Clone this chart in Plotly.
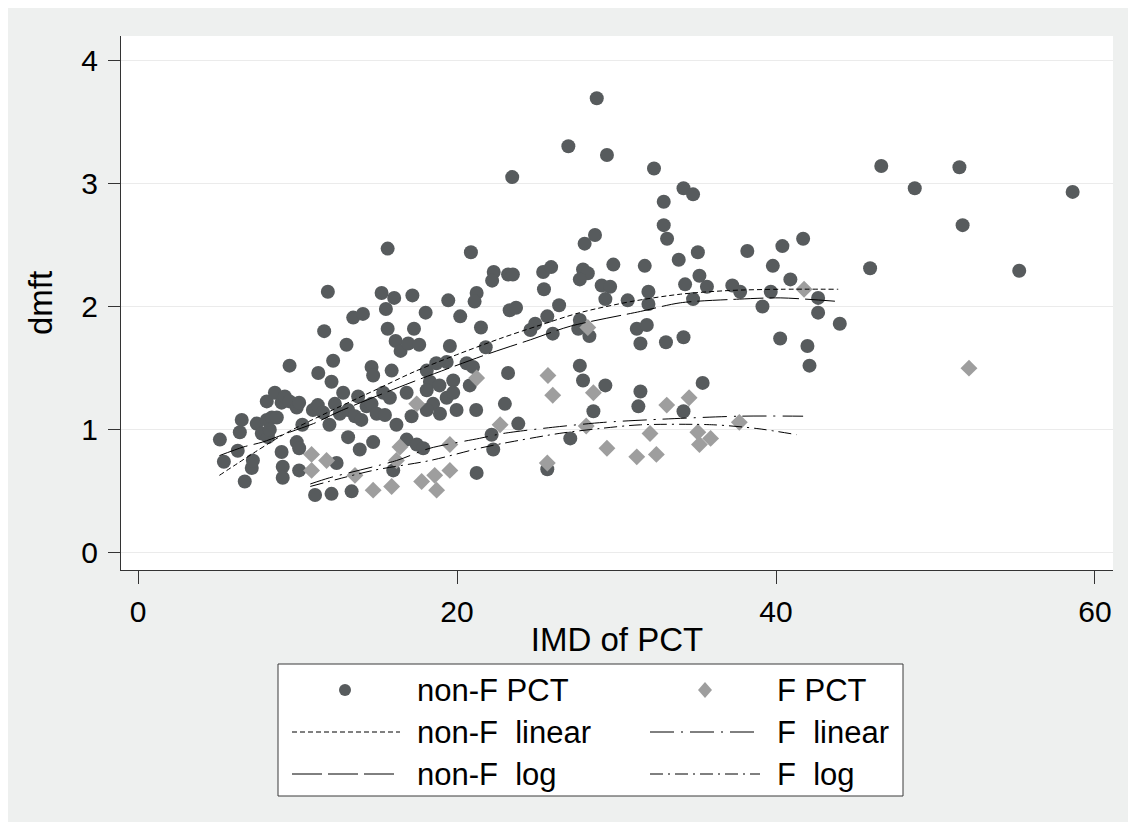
import plotly.graph_objects as go

# ---------------- data ----------------
nonF_imd = [5.13, 5.38, 6.25, 6.50, 6.38, 6.69, 7.13, 7.20, 7.44, 8.07, 8.39, 8.70, 7.76, 8.14, 8.26,
            8.07, 8.58, 9.0, 9.2, 9.5, 9.95, 10.1, 9.0, 9.07, 9.07, 9.95, 10.1, 10.1, 10.3, 10.96,
            11.27, 11.6, 12.0, 11.1, 11.3, 9.5,
            14.64, 14.74, 15.9, 12.13, 12.86, 13.8, 12.34, 12.65, 13.17, 13.6, 14.0, 14.33, 14.64, 14.96,
            15.37, 15.79, 15.48, 16.2, 16.84, 17.15, 18.1, 18.7, 19.35, 18.3, 18.1, 18.9, 19.76, 20.8,
            19.35, 19.76, 18.5, 18.93, 19.97, 21.2, 18.1, 13.17, 13.9, 14.74, 16.84, 17.47, 17.88, 12.45,
            12.13, 13.39, 16.0, 21.23,
            15.65, 20.87, 22.3, 22.2, 11.9, 15.27, 16.06, 17.2, 19.45, 21.23, 21.1, 15.54, 13.49, 14.1,
            18.03, 20.2, 11.67, 15.65, 17.3, 21.5, 13.07, 16.15, 16.46, 16.94, 17.63, 19.55, 21.8, 12.23,
            28.65, 28.0, 23.2, 23.5, 25.4, 25.9, 27.9, 28.2, 27.7, 29.8, 25.45, 29.07, 29.6, 29.3, 30.7,
            23.3, 23.7, 26.4, 25.66, 24.9, 24.6, 26.0, 27.7, 27.6, 28.3, 31.27, 31.5, 20.6, 21.0, 23.2,
            27.7, 27.9, 29.3,
            23.0, 23.84, 22.17, 22.27, 27.1, 25.66, 28.55, 31.5, 31.37,
            28.76, 26.98, 29.4, 23.46, 32.35, 34.2, 34.8, 32.96, 32.96, 33.17, 33.9, 35.1, 38.2, 40.4,
            41.7, 39.8, 31.77, 35.2, 40.9, 34.3, 35.67, 37.26, 37.75, 39.67, 42.64, 42.64, 44.0, 39.15,
            32.0, 32.0, 34.8, 31.9, 33.1, 34.2, 40.26, 41.97, 42.1, 35.4, 34.2,
            46.6, 51.5, 48.7, 58.6, 51.7, 45.9, 55.25]
nonF_dmft = [0.92, 0.74, 0.83, 1.08, 0.98, 0.58, 0.69, 0.75, 1.05, 1.08, 1.10, 1.10, 0.97, 0.94, 1.00,
             1.23, 1.30, 1.22, 1.27, 1.23, 1.18, 1.22, 0.82, 0.70, 0.61, 0.90, 0.85, 0.67, 1.04, 1.16,
             1.20, 1.14, 1.04, 0.47, 1.46, 1.52,
             1.51, 1.44, 1.48, 1.39, 1.30, 1.27, 1.21, 1.13, 1.16, 1.11, 1.08, 1.19, 1.21, 1.13,
             1.30, 1.26, 1.12, 1.04, 1.30, 1.11, 1.48, 1.54, 1.55, 1.39, 1.32, 1.36, 1.40, 1.36,
             1.26, 1.30, 1.21, 1.13, 1.16, 1.16, 1.16, 0.94, 0.84, 0.90, 0.92, 0.88, 0.85, 0.73,
             0.48, 0.50, 0.67, 0.65,
             2.47, 2.44, 2.28, 2.21, 2.12, 2.11, 2.07, 2.09, 2.05, 2.11, 2.04, 1.98, 1.91, 1.94,
             1.95, 1.92, 1.80, 1.82, 1.82, 1.83, 1.69, 1.72, 1.64, 1.70, 1.69, 1.68, 1.67, 1.56,
             2.58, 2.51, 2.26, 2.26, 2.28, 2.32, 2.30, 2.27, 2.22, 2.34, 2.14, 2.17, 2.16, 2.06, 2.05,
             1.97, 1.99, 2.01, 1.92, 1.86, 1.81, 1.78, 1.89, 1.82, 1.76, 1.82, 1.70, 1.54, 1.51, 1.46,
             1.52, 1.40, 1.36,
             1.21, 1.05, 0.96, 0.84, 0.93, 0.68, 1.15, 1.31, 1.19,
             3.69, 3.30, 3.23, 3.05, 3.12, 2.96, 2.91, 2.85, 2.66, 2.55, 2.38, 2.44, 2.45, 2.49,
             2.55, 2.33, 2.33, 2.25, 2.22, 2.18, 2.16, 2.17, 2.12, 2.12, 2.07, 1.95, 1.86, 2.00,
             2.12, 2.02, 2.06, 1.85, 1.71, 1.75, 1.74, 1.68, 1.52, 1.38, 1.15,
             3.14, 3.13, 2.96, 2.93, 2.66, 2.31, 2.29]

F_imd = [10.88, 11.82, 10.88, 13.6, 14.74, 15.9, 16.42, 16.2, 17.47, 17.78, 18.6, 18.72, 19.55, 19.55,
         21.23, 22.7, 25.7, 26.0, 25.66, 28.2, 28.55, 28.1, 29.4, 31.27, 32.1, 32.5, 33.15, 34.55,
         35.1, 35.9, 35.2, 37.7, 41.76, 52.1]
F_dmft = [0.80, 0.75, 0.67, 0.63, 0.51, 0.54, 0.86, 0.75, 1.21, 0.58, 0.63, 0.51, 0.88, 0.67,
          1.42, 1.04, 1.44, 1.28, 0.73, 1.83, 1.30, 1.03, 0.85, 0.78, 0.97, 0.80, 1.20, 1.26,
          0.98, 0.93, 0.88, 1.06, 2.14, 1.50]

nonF_lin_x = [5.1, 9.1, 12.2, 15.0, 17.3, 19.8, 22.7, 25.0, 27.7, 30.9, 34.0, 37.1, 40.3, 43.9]
nonF_lin_y = [0.63, 0.96, 1.16, 1.33, 1.47, 1.60, 1.74, 1.84, 1.95, 2.04, 2.10, 2.13, 2.14, 2.14]

nonF_log_x = [5.1, 6.6, 7.8, 9.5, 11.0, 12.65, 17.05, 22.05, 24.6, 27.1, 31.5, 34.0, 37.7, 40.3, 44.0]
nonF_log_y = [0.79, 0.86, 0.90, 0.98, 1.05, 1.15, 1.38, 1.62, 1.73, 1.84, 1.96, 2.03, 2.06, 2.07, 2.04]

F_lin_x = [10.8, 12.0, 16.2, 18.3, 21.4, 22.9, 26.0, 29.2, 31.9, 37.7, 41.7]
F_lin_y = [0.56, 0.61, 0.75, 0.85, 0.93, 0.97, 1.02, 1.06, 1.08, 1.11, 1.11]

F_log_x = [10.8, 14.74, 18.3, 21.4, 22.9, 26.4, 28.95, 31.5, 36.1, 38.8, 41.3]
F_log_y = [0.54, 0.67, 0.75, 0.85, 0.89, 0.97, 1.01, 1.04, 1.04, 1.01, 0.96]

x_ticks = [0, 20, 40, 60]
y_ticks = [0, 1, 2, 3, 4]

legend_labels = ["non-F PCT", "F PCT", "non-F  linear", "F  linear", "non-F  log", "F  log"]

# ---------------- styles ----------------
FONT = "Liberation Sans, Arial, sans-serif"
FS_TICK = 30
FS_TITLE = 33
FS_LEG = 31
C_NONF = "#575b5d"
C_F = "#9e9e9e"
BG = "#eef0ef"
DASH_NONF_LIN = "5px,3px"
DASH_NONF_LOG = "30px,6px"
DASH_F_LIN = "24px,7px,2px,7px"
DASH_F_LOG = "13px,5px,2px,5px"

fig = go.Figure()

fig.add_trace(go.Scatter(x=nonF_imd, y=nonF_dmft, mode="markers", name=legend_labels[0],
                         marker=dict(symbol="circle", size=14, color=C_NONF, line=dict(width=0))))
fig.add_trace(go.Scatter(x=F_imd, y=F_dmft, mode="markers", name=legend_labels[1],
                         marker=dict(symbol="diamond", size=13, color=C_F, line=dict(width=0))))
for xs, ys, dash, nm in [(nonF_lin_x, nonF_lin_y, DASH_NONF_LIN, legend_labels[2]),
                         (F_lin_x, F_lin_y, DASH_F_LIN, legend_labels[3]),
                         (nonF_log_x, nonF_log_y, DASH_NONF_LOG, legend_labels[4]),
                         (F_log_x, F_log_y, DASH_F_LOG, legend_labels[5])]:
    fig.add_trace(go.Scatter(x=xs, y=ys, mode="lines", name=nm,
                             line=dict(color="black", width=1, dash=dash, shape="spline", smoothing=0.8)))

# ---------------- layout geometry (figure sits 8px inside the page) ----------------
OFF = 8
W, H = 1120, 814
L, R, T, B = 113, 15, 28, 252
pw, ph = W - L - R, H - T - B


def px_x(screen_px):
    return (screen_px - OFF - L) / pw


def px_y(screen_py):
    return (H - B - (screen_py - OFF)) / ph


shapes = [
    dict(type="rect", xref="paper", yref="paper", x0=px_x(278), x1=px_x(903), y0=px_y(796), y1=px_y(664),
         fillcolor="white", line=dict(color="#3a3a3a", width=1)),
]

annotations = []
rows = [690, 732, 774]
col_sym = [(292, 400, 345, 415), (650, 760, 705, 775)]
shapes.append(dict(type="circle", xref="paper", yref="paper", xsizemode="pixel", ysizemode="pixel",
                   xanchor=px_x(345), yanchor=px_y(rows[0]), x0=-6, x1=6, y0=-6, y1=6,
                   fillcolor=C_NONF, line=dict(width=0)))
shapes.append(dict(type="path", xref="paper", yref="paper", xsizemode="pixel", ysizemode="pixel",
                   xanchor=px_x(705), yanchor=px_y(rows[0]),
                   path="M 0 8 L 7 0 L 0 -8 L -7 0 Z", fillcolor=C_F, line=dict(width=0)))
line_dashes = [[DASH_NONF_LIN, DASH_F_LIN], [DASH_NONF_LOG, DASH_F_LOG]]
for r in range(2):
    for c in range(2):
        x0, x1, _, _ = col_sym[c]
        shapes.append(dict(type="line", xref="paper", yref="paper",
                           x0=px_x(x0), x1=px_x(x1), y0=px_y(rows[r + 1]), y1=px_y(rows[r + 1]),
                           line=dict(color="black", width=1, dash=line_dashes[r][c])))
for i, lab in enumerate(legend_labels):
    r, c = divmod(i, 2)
    annotations.append(dict(xref="paper", yref="paper", x=px_x(col_sym[c][3]), y=px_y(rows[r]),
                            xanchor="left", yanchor="middle", text=lab, showarrow=False,
                            font=dict(family=FONT, size=FS_LEG, color="black")))

fig.update_layout(
    width=W, height=H,
    margin=dict(l=L, r=R, t=T, b=B),
    paper_bgcolor=BG, plot_bgcolor="white",
    showlegend=False,
    font=dict(family=FONT, size=FS_TICK, color="black"),
    shapes=shapes, annotations=annotations,
    xaxis=dict(range=[-1.07, 61.13], tickvals=x_ticks, ticks="outside", ticklen=13, tickcolor="#333",
               showline=True, linecolor="#333", linewidth=1, showgrid=False, zeroline=False,
               title=dict(text="IMD of PCT", standoff=0, font=dict(size=FS_TITLE)),
               tickfont=dict(size=FS_TICK), ticklabelstandoff=2, automargin=False),
    yaxis=dict(range=[-0.138, 4.195], tickvals=y_ticks, ticks="outside", ticklen=12, tickcolor="#333",
               showline=True, linecolor="#333", linewidth=1, showgrid=True, gridcolor="#ebebeb",
               gridwidth=1, zeroline=False,
               title=dict(text="dmft", standoff=18, font=dict(size=FS_TITLE)),
               tickfont=dict(size=FS_TICK), ticklabelstandoff=4, automargin=False),
)

fig.write_html("out.html")
